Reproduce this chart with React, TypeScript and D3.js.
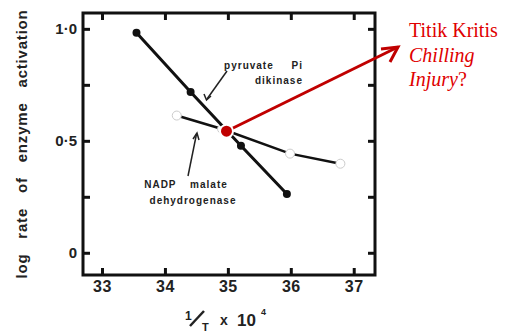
import * as d3 from 'd3'

const dikinaseX = [33.54, 34.4, 35.2, 35.93]
const dikinaseY = [0.985, 0.72, 0.48, 0.265]
const malateX = [34.18, 34.9, 35.98, 36.78]
const malateY = [0.615, 0.555, 0.445, 0.4]
const xTicks = [33, 34, 35, 36, 37]
const yTicks = [0, 0.25, 0.5, 0.75, 1]
const yLabels = [
  { v: 0, t: '0' },
  { v: 0.5, t: '0·5' },
  { v: 1, t: '1·0' },
]
const critical = { x: 34.97, y: 0.545 }

const W = 505
const H = 333
const left = 83
const right = 375
const top = 13
const bottom = 275

const bold = '"Liberation Sans", Arial, sans-serif'
const serif = '"Liberation Serif", "Times New Roman", serif'

export default function App() {
  const x = d3.scaleLinear().domain([32.69, 37.33]).range([left, right])
  const y = d3.scaleLinear().domain([-0.097, 1.073]).range([bottom, top])
  const line = d3
    .line<[number, number]>()
    .x(d => x(d[0]))
    .y(d => y(d[1]))

  const dik = dikinaseX.map((v, i) => [v, dikinaseY[i]] as [number, number])
  const mal = malateX.map((v, i) => [v, malateY[i]] as [number, number])

  const cx = x(critical.x)
  const cy = y(critical.y)
  const ax = 398
  const ay = 47

  return (
    <svg
      width={W}
      height={H}
      style={{ position: 'fixed', left: 0, top: 0, background: '#fff' }}
    >
      {/* frame */}
      <rect x={left} y={top} width={right - left} height={bottom - top} fill="none" stroke="#111" strokeWidth={3} />
      {xTicks.map(t => (
        <g key={'x' + t}>
          <line x1={x(t)} x2={x(t)} y1={bottom} y2={bottom - 7} stroke="#111" strokeWidth={3} />
          <line x1={x(t)} x2={x(t)} y1={top} y2={top + 7} stroke="#111" strokeWidth={3} />
          <text x={x(t)} y={292} textAnchor="middle" fontFamily={bold} fontWeight="bold" fontSize={16} letterSpacing={0.5} fill="#222">
            {t}
          </text>
        </g>
      ))}
      {yTicks.map(t => (
        <g key={'y' + t}>
          <line x1={left} x2={left + 7} y1={y(t)} y2={y(t)} stroke="#111" strokeWidth={3} />
          <line x1={right} x2={right - 7} y1={y(t)} y2={y(t)} stroke="#111" strokeWidth={3} />
        </g>
      ))}
      {yLabels.map(l => (
        <text key={l.t} x={77} y={y(l.v) + 5} textAnchor="end" fontFamily={bold} fontWeight="bold" fontSize={15} fill="#222">
          {l.t}
        </text>
      ))}

      {/* y axis title */}
      <text
        transform={`translate(27,${(top + bottom) / 2}) rotate(-90)`}
        textAnchor="middle"
        fontFamily={bold}
        fontWeight="bold"
        fontSize={15}
        letterSpacing={0.8}
        wordSpacing={10}
        fill="#222"
      >
        log rate of enzyme activation
      </text>

      {/* x axis title: 1/T x 10^4 */}
      <g fontFamily={bold} fontWeight="bold" fill="#222">
        <text x={185} y={320} fontSize={12}>1</text>
        <line x1={190} y1={326} x2={204} y2={311} stroke="#222" strokeWidth={2.5} />
        <text x={202} y={331} fontSize={11}>T</text>
        <text x={220} y={325} fontSize={14}>x</text>
        <text x={237} y={326} fontSize={17}>10</text>
        <text x={261} y={315} fontSize={9}>4</text>
      </g>

      {/* series */}
      <path d={line(mal) || ''} fill="none" stroke="#111" strokeWidth={2.5} />
      {mal.map((d, i) => (
        <circle key={'m' + i} cx={x(d[0])} cy={y(d[1])} r={4.5} fill="#fff" stroke="#ccc" strokeWidth={1} />
      ))}
      <path d={line(dik) || ''} fill="none" stroke="#111" strokeWidth={3} />
      {dik.map((d, i) => (
        <circle key={'d' + i} cx={x(d[0])} cy={y(d[1])} r={4} fill="#111" />
      ))}

      {/* annotations */}
      <g fontFamily={bold} fontWeight="bold" fontSize={10} fill="#222" letterSpacing={1}>
        <text x={303} y={69} textAnchor="end" wordSpacing={14}>pyruvate Pi</text>
        <text x={303} y={84} textAnchor="end">dikinase</text>
        <text x={186} y={188} textAnchor="middle" wordSpacing={10}>NADP malate</text>
        <text x={193} y={204} textAnchor="middle">dehydrogenase</text>
      </g>
      <line x1={227} y1={71} x2={207} y2={99} stroke="#222" strokeWidth={1.5} />
      <path d="M204,94 L206.5,100 L211,96" fill="none" stroke="#222" strokeWidth={1.5} />
      <line x1={188} y1={176} x2={196.5} y2={134} stroke="#222" strokeWidth={1.5} />
      <path d="M193,139 L197,133 L199,140" fill="none" stroke="#222" strokeWidth={1.5} />

      {/* critical point */}
      <line x1={cx} y1={cy} x2={ax} y2={ay} stroke="#c00000" strokeWidth={3} />
      <path d={`M${ax - 17},${ay + 2} L${ax},${ay} L${ax - 8},${ay + 15}`} fill="none" stroke="#c00000" strokeWidth={3} strokeLinejoin="miter" />
      <circle cx={cx} cy={cy} r={6.5} fill="#c00000" stroke="#fff" strokeWidth={2} />

      <g fontFamily={serif} fontSize={20} fill="#e00000">
        <text x={409} y={37}>Titik Kritis</text>
        <text x={409} y={62} fontStyle="italic">Chilling</text>
        <text x={409} y={86}>
          <tspan fontStyle="italic">Injury</tspan>?
        </text>
      </g>
    </svg>
  )
}
